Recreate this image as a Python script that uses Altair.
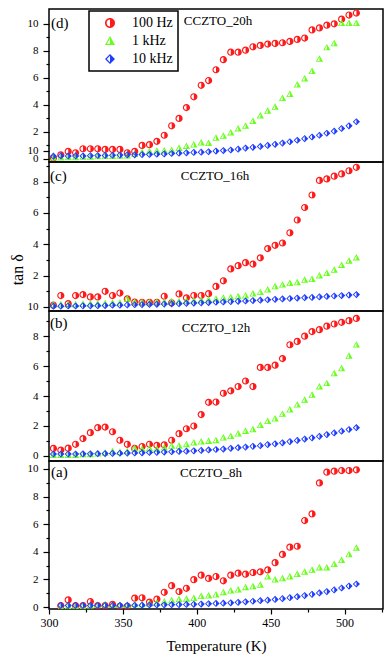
import altair as alt
import pandas as pd

FONT = "Liberation Serif, Times New Roman, serif"

# Temperatures (K)
temps = [303, 308, 313, 318, 323, 328, 333, 338, 343, 348, 353, 358, 363, 368,
         373, 378, 383, 388, 393, 398, 403, 408, 413, 418, 423, 428, 433, 438,
         443, 448, 453, 458, 463, 468, 473, 478, 483, 488, 493, 498, 503, 508]
temps_8h = [308, 313, 318, 323, 328, 333, 338, 343, 348, 353, 358, 363, 368,
            373, 378, 383, 388, 393, 398, 403, 408, 413, 418, 423, 428, 433, 438,
            443, 448, 453, 458, 463, 468, 473, 478, 483, 488, 493, 498, 503, 508]

FREQS = ["100 Hz", "1 kHz", "10 kHz"]

# CCZTO_20h (d)
d_100 = [0.05, 0.3, 0.55, 0.45, 0.75, 0.75, 0.75, 0.7, 0.7, 0.7,
         0.45, 0.55, 1.0, 1.05, 1.3, 1.75, 2.45, 3.0, 3.8, 4.6,
         5.45, 5.8, 6.6, 7.35, 7.9, 7.9, 8.05, 8.3, 8.4, 8.5,
         8.55, 8.6, 8.7, 8.85, 8.95, 9.55, 9.7, 9.9, 10.0, 10.35, 10.65, 10.8]
d_1k = [0.1, 0.1, 0.12, 0.12, 0.15, 0.15, 0.18, 0.2, 0.2, 0.22,
        0.25, 0.35, 0.5, 0.55, 0.6, 0.62, 0.65, 0.8, 0.95, 1.05,
        1.2, 1.17, 1.55, 1.7, 1.95, 2.25, 2.45, 2.8, 3.2, 3.55,
        3.85, 4.5, 4.8, 5.5, 5.95, 6.5, 7.4, 8.25, 8.55, 10.05, 10.05, 10.05]
d_10k = [0.2, 0.22, 0.22, 0.22, 0.22, 0.24, 0.25, 0.26, 0.27, 0.28,
         0.3, 0.3, 0.32, 0.33, 0.35, 0.37, 0.4, 0.42, 0.45, 0.48,
         0.5, 0.53, 0.58, 0.62, 0.66, 0.72, 0.8, 0.86, 0.92, 1.0,
         1.08, 1.17, 1.27, 1.38, 1.5, 1.62, 1.75, 1.9, 2.05, 2.25, 2.45, 2.75]

# CCZTO_16h (c)
c_100 = [0.1, 0.72, 0.2, 0.72, 0.78, 0.63, 0.63, 0.99, 0.72, 0.88,
         0.5, 0.3, 0.29, 0.29, 0.29, 0.67, 0.25, 0.82, 0.57, 0.72,
         0.72, 0.84, 1.3, 1.66, 2.42, 2.63, 2.82, 2.73, 3.13, 3.72,
         3.93, 4.08, 4.73, 5.55, 6.35, 7.15, 8.08, 8.18, 8.35, 8.5, 8.7, 8.92]
c_1k = [0.15, 0.15, 0.15, 0.15, 0.18, 0.2, 0.2, 0.22, 0.25, 0.25,
        0.5, 0.3, 0.28, 0.28, 0.3, 0.32, 0.35, 0.35, 0.38, 0.4,
        0.42, 0.46, 0.5, 0.57, 0.6, 0.67, 0.72, 0.84, 0.93, 1.1,
        1.3, 1.41, 1.51, 1.56, 1.72, 1.77, 2.0, 2.15, 2.36, 2.67, 2.94, 3.15]
c_10k = [0.04, 0.04, 0.05, 0.05, 0.06, 0.06, 0.07, 0.08, 0.1, 0.1,
         0.12, 0.13, 0.14, 0.15, 0.16, 0.17, 0.18, 0.2, 0.22, 0.24,
         0.25, 0.27, 0.29, 0.31, 0.33, 0.35, 0.37, 0.4, 0.42, 0.45,
         0.48, 0.5, 0.53, 0.56, 0.58, 0.6, 0.63, 0.66, 0.69, 0.72, 0.75, 0.78]

# CCZTO_12h (b)
b_100 = [0.49, 0.38, 0.51, 0.77, 1.15, 1.55, 1.88, 1.92, 1.61, 1.04,
         0.77, 0.49, 0.62, 0.77, 0.7, 0.73, 1.04, 1.48, 1.81, 1.99,
         2.76, 3.58, 3.6, 4.19, 4.35, 4.64, 5.01, 4.64, 5.92, 5.92,
         6.07, 6.51, 7.44, 7.66, 8.01, 8.32, 8.45, 8.68, 8.83, 8.94, 9.05, 9.2]
b_1k = [0.05, 0.05, 0.05, 0.05, 0.1, 0.1, 0.15, 0.2, 0.3, 0.25,
        0.3, 0.5, 0.45, 0.5, 0.44, 0.55, 0.66, 0.66, 0.77, 0.88,
        0.95, 0.99, 1.04, 1.21, 1.32, 1.48, 1.66, 1.77, 2.05, 2.32,
        2.49, 2.8, 3.09, 3.42, 3.75, 4.08, 4.64, 4.86, 5.52, 5.85, 6.69, 7.44]
b_10k = [0.12, 0.12, 0.12, 0.12, 0.13, 0.13, 0.14, 0.15, 0.16, 0.17,
         0.18, 0.19, 0.2, 0.22, 0.23, 0.25, 0.27, 0.29, 0.31, 0.33,
         0.36, 0.39, 0.42, 0.45, 0.5, 0.54, 0.58, 0.63, 0.68, 0.75,
         0.8, 0.87, 0.95, 1.03, 1.12, 1.2, 1.3, 1.42, 1.53, 1.65, 1.76, 1.88]

# CCZTO_8h (a)
a_100 = [0.1, 0.52, 0.1, 0.1, 0.4, 0.1, 0.1, 0.19, 0.05, 0.05,
         0.64, 0.67, 0.36, 0.57, 1.07, 1.55, 1.12, 1.36, 1.98, 2.31,
         2.07, 2.21, 1.9, 2.31, 2.45, 2.38, 2.5, 2.55, 2.69, 3.21,
         3.81, 4.33, 4.4, 6.26, 6.74, 8.98, 9.76, 9.83, 9.88, 9.88, 9.93]
a_1k = [0.0, 0.05, 0.05, 0.05, 0.1, 0.15, 0.2, 0.15, 0.15, 0.15,
        0.2, 0.2, 0.25, 0.3, 0.4, 0.48, 0.55, 0.6, 0.64, 0.79,
        0.83, 0.9, 1.07, 1.19, 1.26, 1.43, 1.5, 1.6, 2.21, 1.98,
        2.07, 2.21, 2.38, 2.55, 2.69, 2.86, 2.86, 3.1, 3.4, 3.81, 4.29]
a_10k = [0.12, 0.12, 0.12, 0.12, 0.12, 0.12, 0.12, 0.12, 0.12, 0.13,
         0.13, 0.14, 0.15, 0.15, 0.16, 0.17, 0.18, 0.19, 0.2, 0.22,
         0.24, 0.26, 0.28, 0.31, 0.34, 0.38, 0.42, 0.46, 0.5, 0.55,
         0.61, 0.68, 0.75, 0.83, 0.92, 1.02, 1.12, 1.24, 1.38, 1.52, 1.67]

COLORS = ["#ff1a1a", "#66ff1a", "#1f3dff"]
# half-filled symbols: outline ring on the left half, solid right half
CIRCLE = "M0,-1 A1,1 0 1,1 0,1 A1,1 0 1,1 0,-1 Z M0,-0.68 A0.68,0.68 0 0,0 0,0.68 Z"
TRI = "M0,-1 L1,0.8 L-1,0.8 Z M0,-0.52 L-0.62,0.57 L0,0.57 Z"
DIA = "M0,-1 L1,0 L0,1 L-1,0 Z M0,-0.64 L-0.64,0 L0,0.64 Z"
SHAPES = [CIRCLE, TRI, DIA]

PLOT_W = 334


def panel_df(ts, s100, s1k, s10k):
    rows = []
    for f, vals in zip(FREQS, [s100, s1k, s10k]):
        for t, v in zip(ts, vals):
            rows.append({"T": t, "tan": v, "freq": f})
    return pd.DataFrame(rows)


def txt(s, x, y, size, align="left"):
    return alt.Chart(pd.DataFrame({"s": [s]})).mark_text(
        font=FONT, fontSize=size, align=align, baseline="alphabetic", color="black"
    ).encode(text="s:N", x=alt.value(x), y=alt.value(y))


YTICK = {"condition": {"test": "datum.value % 2 == 1", "value": 3}, "value": 6}
XTICK = {"condition": {"test": "datum.value % 50 != 0", "value": 3}, "value": 5}


def panel(df, h, dom, yvals, lexpr, letter, lpos, name, npos, legend=None,
          xaxis=None, ytitle=False):
    ykw = dict(values=yvals, labelExpr=lexpr, tickSize=YTICK, grid=False,
               domain=False, labelOverlap=False, labelPadding=5, title=None,
               labelFontSize=11, labelFont=FONT)
    if ytitle:
        ykw.update(title="tan δ", titleX=-32, titleY=h * 0.72, titleAngle=270,
                   titleBaseline="middle", titleAlign="center", titleFontSize=16,
                   titleFont=FONT, titleFontWeight="normal")
    pts = alt.Chart(df).mark_point(
        filled=True, opacity=1, size=52, clip=True, strokeWidth=0
    ).encode(
        x=alt.X("T:Q", scale=alt.Scale(domain=[300, 526], nice=False, zero=False),
                axis=xaxis),
        y=alt.Y("tan:Q", scale=alt.Scale(domain=dom, nice=False, zero=False),
                axis=alt.Axis(**ykw)),
        color=alt.Color("freq:N", scale=alt.Scale(domain=FREQS, range=COLORS),
                        legend=legend),
        shape=alt.Shape("freq:N", scale=alt.Scale(domain=FREQS, range=SHAPES),
                        legend=legend),
    )
    return alt.layer(
        pts,
        txt(letter, lpos[0], lpos[1], 15),
        txt(name, npos[0], npos[1], 13, "center"),
    ).properties(width=PLOT_W, height=h)


legend = alt.Legend(orient="none", legendX=40, legendY=2, title=None,
                    strokeColor="black", fillColor="white", padding=5,
                    symbolOffset=9, labelOffset=15, rowPadding=4, symbolSize=100,
                    labelFont=FONT, labelFontSize=14, labelColor="black")

xaxis = alt.Axis(values=[300, 325, 350, 375, 400, 425, 450, 475, 500, 525],
                 labelExpr="datum.value % 50 == 0 ? datum.label : ''",
                 tickSize=XTICK, grid=False, domain=False, labelFlush=False,
                 labelOverlap=False, labelFontSize=12, labelPadding=3,
                 labelFont=FONT,
                 title="Temperature (K)", titleFont=FONT, titleFontSize=15,
                 titleFontWeight="normal", titlePadding=10)

odd = "datum.value % 2 == 1 ? '' : datum.label"

p_d = panel(panel_df(temps, d_100, d_1k, d_10k), 153, [-0.23, 11.1],
            [0, 0.6, 1, 2, 3, 4, 5, 6, 7, 8, 9, 10],
            "datum.value == 0.6 ? '10' : (" + odd + ")",
            "(d)", (2, 19), "CCZTO_20h", (169, 16), legend=legend)
p_c = panel(panel_df(temps, c_100, c_1k, c_10k), 149, [-0.27, 9.26],
            [0, 1, 2, 3, 4, 5, 6, 7, 8, 9],
            "datum.value == 0 ? '10' : (" + odd + ")",
            "(c)", (1, 19), "CCZTO_16h", (166, 18), ytitle=True)
p_b = panel(panel_df(temps, b_100, b_1k, b_10k), 150, [-0.35, 9.7],
            [0, 1, 2, 3, 4, 5, 6, 7, 8, 9], odd,
            "(b)", (1, 17), "CCZTO_12h", (167, 21))
p_a = panel(panel_df(temps_8h, a_100, a_1k, a_10k), 148, [-0.14, 10.57],
            [0, 1, 2, 3, 4, 5, 6, 7, 8, 9, 10], odd,
            "(a)", (2, 16), "CCZTO_8h", (162, 16), xaxis=xaxis)

chart = alt.vconcat(p_d, p_c, p_b, p_a, spacing=0, bounds="flush").resolve_scale(
    x="independent", y="independent", color="independent", shape="independent"
).properties(padding=0).configure_view(
    stroke="black", strokeWidth=1.5
).configure_axis(
    labelFont=FONT, labelColor="black", tickColor="black", tickWidth=1.2,
    titleColor="black"
).configure_legend(strokeWidth=1.5)

chart.save("out.html", embed_options={"renderer": "svg", "actions": False})
